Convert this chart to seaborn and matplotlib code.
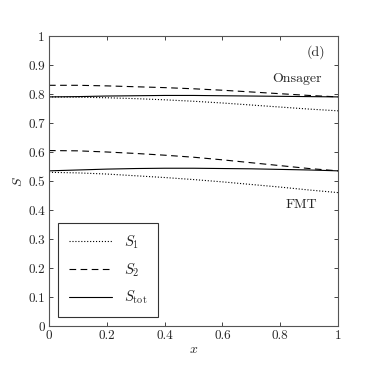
import numpy as np
import matplotlib
matplotlib.use('Agg')
import matplotlib.pyplot as plt
import seaborn as sns

x = [0.0, 0.1, 0.2, 0.3, 0.4, 0.5, 0.6, 0.7, 0.8, 0.9, 1.0]

# Onsager
ons_s1 = [0.790, 0.789, 0.787, 0.784, 0.780, 0.775, 0.769, 0.762, 0.755, 0.748, 0.742]
ons_s2 = [0.830, 0.830, 0.828, 0.825, 0.822, 0.818, 0.813, 0.807, 0.801, 0.795, 0.790]
ons_tot = [0.790, 0.791, 0.793, 0.794, 0.795, 0.795, 0.794, 0.793, 0.792, 0.791, 0.790]

# FMT
fmt_s1 = [0.530, 0.528, 0.524, 0.518, 0.512, 0.505, 0.497, 0.488, 0.479, 0.469, 0.460]
fmt_s2 = [0.605, 0.604, 0.600, 0.595, 0.589, 0.582, 0.573, 0.563, 0.553, 0.543, 0.535]
fmt_tot = [0.535, 0.538, 0.541, 0.543, 0.544, 0.544, 0.543, 0.542, 0.540, 0.538, 0.535]

sns.set_style('ticks')
plt.rcParams['font.family'] = ['cmr10', 'DejaVu Serif']
plt.rcParams['mathtext.fontset'] = 'cm'
plt.rcParams['axes.formatter.use_mathtext'] = True
plt.rcParams['font.size'] = 9

fig = plt.figure(figsize=(3.74, 3.76), dpi=100)
ax = fig.add_axes([49 / 374, 50 / 376, 289 / 374, 290 / 376])

styles = [(ons_s1, fmt_s1, ':', r'$S_1$'),
          (ons_s2, fmt_s2, (0, (6, 4)), r'$S_2$'),
          (ons_tot, fmt_tot, '-', r'$S_{\rm tot}$')]
for ons, fmt, ls, lab in styles:
    sns.lineplot(x=x, y=ons, ax=ax, color='black', linestyle=ls, linewidth=0.8, label=lab)
    sns.lineplot(x=x, y=fmt, ax=ax, color='black', linestyle=ls, linewidth=0.8)

ax.set_xlim(0, 1)
ax.set_ylim(0, 1)
ax.set_xticks([0, 0.2, 0.4, 0.6, 0.8, 1])
ax.set_xticklabels(['0', '0.2', '0.4', '0.6', '0.8', '1'])
ax.set_yticks(np.round(np.arange(0, 1.01, 0.1), 1))
ax.set_yticklabels(['0'] + [f'{v:.1f}' for v in np.arange(0.1, 0.95, 0.1)] + ['1'])
ax.tick_params(direction='in', top=True, right=True, length=3, width=0.6, labelsize=9.5, pad=3)
for s in ax.spines.values():
    s.set_linewidth(0.8)
    s.set_color('#555555')
ax.set_xlabel(r'$x$', fontsize=10, labelpad=1)
ax.set_ylabel(r'$S$', fontsize=10, labelpad=2)

ax.text(0.957, 0.945, '(d)', fontsize=10, ha='right', va='center', transform=ax.transAxes)
ax.text(0.945, 0.853, 'Onsager', fontsize=10, ha='right', va='center', transform=ax.transAxes)
ax.text(0.927, 0.417, 'FMT', fontsize=10, ha='right', va='center', transform=ax.transAxes)

leg = ax.legend(loc='lower left', bbox_to_anchor=(0.03, 0.03), fontsize=10.5, frameon=True,
                fancybox=False, edgecolor='black', handlelength=3.0, borderpad=0.75,
                labelspacing=0.7, handletextpad=0.8, borderaxespad=0)
leg.get_frame().set_linewidth(0.8)

fig.savefig('out.png', dpi=100)
